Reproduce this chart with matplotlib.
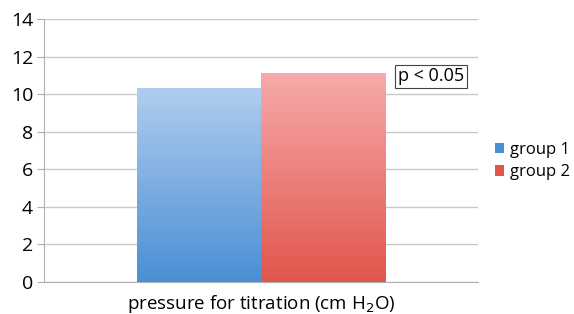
import matplotlib
matplotlib.use('Agg')
import matplotlib.pyplot as plt
import numpy as np
from matplotlib.colors import LinearSegmentedColormap
from matplotlib.patches import Patch

category = 'pressure for titration (cm H$_2$O)'
groups = ['group 1', 'group 2']
values = [10.3, 11.1]
top_colors = ['#b0cdef', '#f7aaaa']
bottom_colors = ['#4a8fd4', '#e0564b']
yticks = [0, 2, 4, 6, 8, 10, 12, 14]

plt.rcParams['font.family'] = ['Open Sans', 'DejaVu Sans']

fig = plt.figure(figsize=(5.74, 3.14), dpi=100)
ax = fig.add_axes([0.077, 0.102, 0.756, 0.837])

width = 0.286
xs = [-width / 2, width / 2]
grad = np.linspace(0, 1, 256).reshape(-1, 1)
for x, v, tc, bc in zip(xs, values, top_colors, bottom_colors):
    cmap = LinearSegmentedColormap.from_list('g', [bc, tc])
    ax.imshow(grad, cmap=cmap, origin='lower', aspect='auto',
              extent=[x - width / 2, x + width / 2, 0, v], zorder=2)

ax.set_xlim(-0.5, 0.5)
ax.set_ylim(0, 14)
ax.set_yticks(yticks)
ax.set_xticks([0])
ax.set_xticklabels([category], fontsize=13.5)
ax.tick_params(axis='x', length=0, pad=8)
ax.tick_params(axis='y', labelsize=14, length=5, color='#b0b0b0', pad=3)
ax.grid(axis='y', color='#c8c8c8', linewidth=1, zorder=0)
for s in ['top', 'right']:
    ax.spines[s].set_visible(False)
for s in ['left', 'bottom']:
    ax.spines[s].set_color('#b0b0b0')

ax.text(0.315, 10.95, 'p < 0.05', fontsize=13, va='center', ha='left',
        bbox=dict(boxstyle='square,pad=0.15', fc='white', ec='#444444', lw=0.8), zorder=3)

handles = [Patch(facecolor=bottom_colors[i], edgecolor='none') for i in range(2)]
fig.legend(handles, groups, loc='center left', bbox_to_anchor=(0.862, 0.487),
           frameon=False, fontsize=12, handlelength=0.55, handleheight=0.55,
           handletextpad=0.35, labelspacing=0.4, borderpad=0, borderaxespad=0)

fig.savefig('out.png', dpi=100)
